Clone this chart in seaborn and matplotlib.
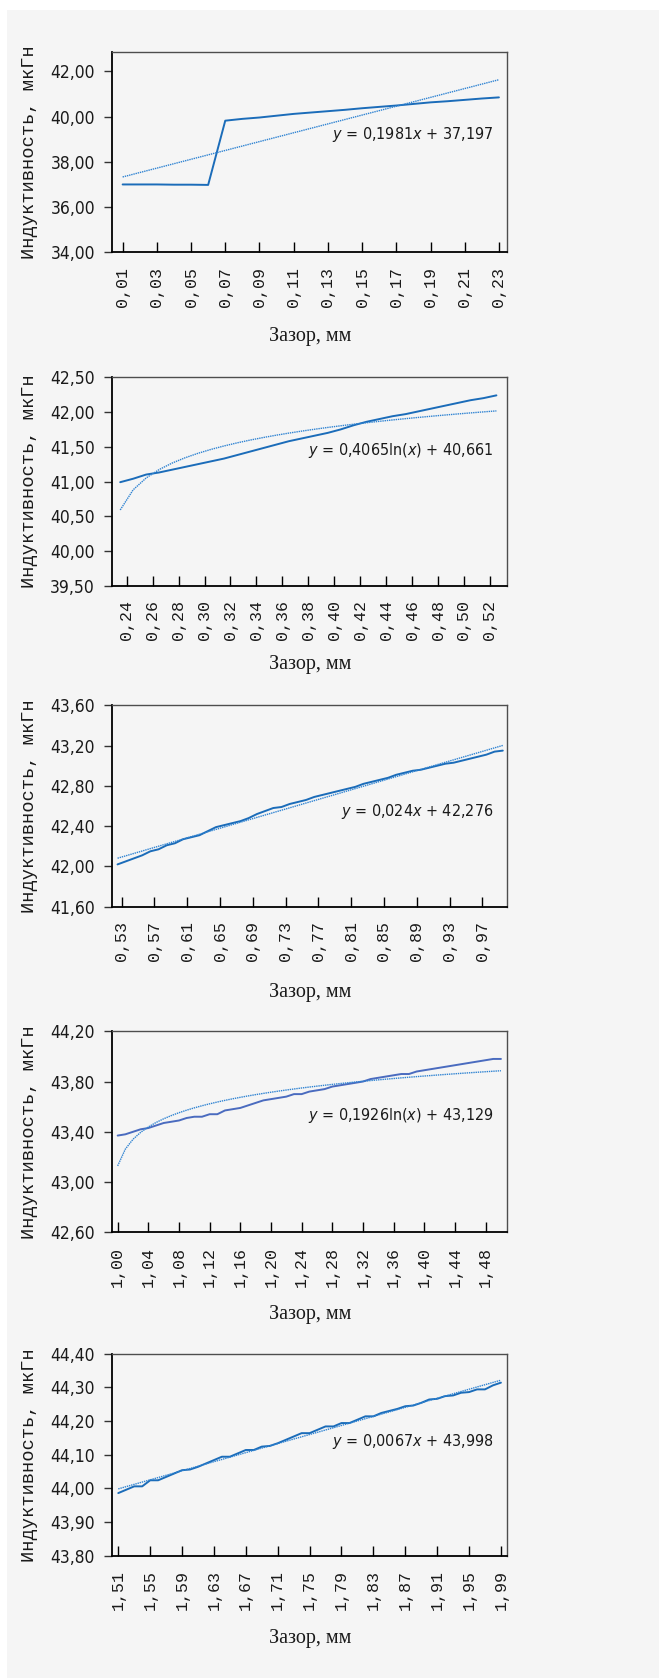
import numpy as np
import pandas as pd
import seaborn as sns
import matplotlib
matplotlib.use("Agg")
import matplotlib.pyplot as plt
from matplotlib import font_manager
from matplotlib.patches import Rectangle

# ---- данные (зазор, мм / индуктивность, мкГн) ----
gap1 = [0.01, 0.02, 0.03, 0.04, 0.05, 0.06, 0.07, 0.08, 0.09, 0.10, 0.11, 0.12,
        0.13, 0.14, 0.15, 0.16, 0.17, 0.18, 0.19, 0.20, 0.21, 0.22, 0.23]
ind1 = [37.00, 37.00, 37.00, 36.99, 36.99, 36.98, 39.82, 39.90, 39.96, 40.04, 40.12, 40.18,
        40.24, 40.30, 40.37, 40.43, 40.49, 40.56, 40.63, 40.68, 40.74, 40.80, 40.85]

gap2 = [0.235, 0.245, 0.255, 0.265, 0.275, 0.285, 0.295, 0.305, 0.315, 0.325,
        0.335, 0.345, 0.355, 0.365, 0.375, 0.385, 0.395, 0.405, 0.415, 0.425,
        0.435, 0.445, 0.455, 0.465, 0.475, 0.485, 0.495, 0.505, 0.515, 0.525]
ind2 = [40.99, 41.04, 41.10, 41.13, 41.17, 41.21, 41.25, 41.29, 41.33, 41.38,
        41.43, 41.48, 41.53, 41.58, 41.62, 41.66, 41.70, 41.75, 41.81, 41.86,
        41.90, 41.94, 41.97, 42.01, 42.05, 42.09, 42.13, 42.17, 42.20, 42.24]

gap3 = [0.525, 0.535, 0.545, 0.555, 0.565, 0.575, 0.585, 0.595, 0.605, 0.615, 0.625, 0.635,
        0.645, 0.655, 0.665, 0.675, 0.685, 0.695, 0.705, 0.715, 0.725, 0.735, 0.745, 0.755,
        0.765, 0.775, 0.785, 0.795, 0.805, 0.815, 0.825, 0.835, 0.845, 0.855, 0.865, 0.875,
        0.885, 0.895, 0.905, 0.915, 0.925, 0.935, 0.945, 0.955, 0.965, 0.975, 0.985, 0.995]
ind3 = [42.02, 42.05, 42.08, 42.11, 42.15, 42.17, 42.21, 42.23, 42.27, 42.29, 42.31, 42.35,
        42.39, 42.41, 42.43, 42.45, 42.48, 42.52, 42.55, 42.58, 42.59, 42.62, 42.64, 42.66,
        42.69, 42.71, 42.73, 42.75, 42.77, 42.79, 42.82, 42.84, 42.86, 42.88, 42.91, 42.93,
        42.95, 42.96, 42.98, 43.00, 43.02, 43.03, 43.05, 43.07, 43.09, 43.11, 43.14, 43.15]

gap4 = [1.00, 1.01, 1.02, 1.03, 1.04, 1.05, 1.06, 1.07, 1.08, 1.09, 1.10, 1.11, 1.12,
        1.13, 1.14, 1.15, 1.16, 1.17, 1.18, 1.19, 1.20, 1.21, 1.22, 1.23, 1.24, 1.25,
        1.26, 1.27, 1.28, 1.29, 1.30, 1.31, 1.32, 1.33, 1.34, 1.35, 1.36, 1.37, 1.38,
        1.39, 1.40, 1.41, 1.42, 1.43, 1.44, 1.45, 1.46, 1.47, 1.48, 1.49, 1.50]
ind4 = [43.37, 43.38, 43.40, 43.42, 43.43, 43.45, 43.47, 43.48, 43.49, 43.51, 43.52, 43.52, 43.54,
        43.54, 43.57, 43.58, 43.59, 43.61, 43.63, 43.65, 43.66, 43.67, 43.68, 43.70, 43.70, 43.72,
        43.73, 43.74, 43.76, 43.77, 43.78, 43.79, 43.80, 43.82, 43.83, 43.84, 43.85, 43.86, 43.86,
        43.88, 43.89, 43.90, 43.91, 43.92, 43.93, 43.94, 43.95, 43.96, 43.97, 43.98, 43.98]

gap5 = [1.51, 1.52, 1.53, 1.54, 1.55, 1.56, 1.57, 1.58, 1.59, 1.60, 1.61, 1.62, 1.63,
        1.64, 1.65, 1.66, 1.67, 1.68, 1.69, 1.70, 1.71, 1.72, 1.73, 1.74, 1.75, 1.76,
        1.77, 1.78, 1.79, 1.80, 1.81, 1.82, 1.83, 1.84, 1.85, 1.86, 1.87, 1.88, 1.89,
        1.90, 1.91, 1.92, 1.93, 1.94, 1.95, 1.96, 1.97, 1.98, 1.99]
ind5 = [43.986, 43.996, 44.006, 44.006, 44.024, 44.024, 44.034, 44.044, 44.054, 44.056, 44.064, 44.074, 44.084,
        44.094, 44.094, 44.104, 44.114, 44.114, 44.124, 44.126, 44.134, 44.144, 44.154, 44.164, 44.164, 44.174,
        44.184, 44.184, 44.194, 44.194, 44.204, 44.214, 44.214, 44.224, 44.230, 44.236, 44.244, 44.246, 44.254,
        44.264, 44.266, 44.274, 44.276, 44.284, 44.286, 44.294, 44.294, 44.306, 44.314]

xlabels1 = ["0,01", "0,03", "0,05", "0,07", "0,09", "0,11", "0,13", "0,15", "0,17", "0,19", "0,21", "0,23"]
xlabels2 = ["0,24", "0,26", "0,28", "0,30", "0,32", "0,34", "0,36", "0,38", "0,40", "0,42",
            "0,44", "0,46", "0,48", "0,50", "0,52"]
xlabels3 = ["0,53", "0,57", "0,61", "0,65", "0,69", "0,73", "0,77", "0,81", "0,85", "0,89", "0,93", "0,97"]
xlabels4 = ["1,00", "1,04", "1,08", "1,12", "1,16", "1,20", "1,24", "1,28", "1,32", "1,36",
            "1,40", "1,44", "1,48"]
xlabels5 = ["1,51", "1,55", "1,59", "1,63", "1,67", "1,71", "1,75", "1,79", "1,83", "1,87",
            "1,91", "1,95", "1,99"]

ylabels1 = ["34,00", "36,00", "38,00", "40,00", "42,00"]
ylabels2 = ["39,50", "40,00", "40,50", "41,00", "41,50", "42,00", "42,50"]
ylabels3 = ["41,60", "42,00", "42,40", "42,80", "43,20", "43,60"]
ylabels4 = ["42,60", "43,00", "43,40", "43,80", "44,20"]
ylabels5 = ["43,80", "43,90", "44,00", "44,10", "44,20", "44,30", "44,40"]

equations = [r"$y$ = 0,1981$x$ + 37,197",
             r"$y$ = 0,4065ln($x$) + 40,661",
             r"$y$ = 0,024$x$ + 42,276",
             r"$y$ = 0,1926ln($x$) + 43,129",
             r"$y$ = 0,0067$x$ + 43,998"]
trend_kind = ["lin", "log", "lin", "log", "lin"]

# ---- оформление ----
sns.set_theme(style="white")

# узкий шрифт, если он есть
fl = font_manager.fontManager.ttflist
narrow_family, narrow_stretch, num_size = "Liberation Sans", "normal", 12.5
for f in fl:
    if f.name == "Liberation Sans Narrow":
        narrow_family, narrow_stretch, num_size = "Liberation Sans Narrow", "normal", 13.5
        break
else:
    for f in fl:
        if f.name == "DejaVu Sans" and str(f.stretch) in ("condensed", "semi-condensed"):
            narrow_family, narrow_stretch, num_size = "DejaVu Sans", "condensed", 12.5
            break

plt.rcParams["font.family"] = [narrow_family, "DejaVu Sans"]
plt.rcParams["font.stretch"] = narrow_stretch
plt.rcParams["mathtext.fontset"] = "custom"
plt.rcParams["mathtext.it"] = narrow_family + ":italic"
plt.rcParams["mathtext.rm"] = narrow_family

W, H = 659, 1678
fig = plt.figure(figsize=(W / 100, H / 100), dpi=100)
fig.patch.set_facecolor("white")
bg = "#f5f5f5"
fig.patches.append(Rectangle((7 / W, 0), 1 - 7 / W, 1 - 10 / H, transform=fig.transFigure,
                             facecolor=bg, edgecolor="none", zorder=-10))

line_col = "#1b6cb9"
trend_col = "#2f83d2"

panels = [
    (gap1, ind1, xlabels1, ylabels1, (0.00396, 0.2349), (34, 42.87), (51.7, 252.3), 0.585, line_col),
    (gap2, ind2, xlabels2, ylabels2, (0.2289, 0.5334), (39.5, 42.5), (377.3, 585.7), 0.651, line_col),
    (gap3, ind3, xlabels3, ylabels3, (0.5186, 1.0005), (41.6, 43.6), (705.3, 906.7), 0.472, line_col),
    (gap4, ind4, xlabels4, ylabels4, (0.993, 1.5083), (42.6, 44.2), (1031.3, 1232.3), 0.579, "#4a6bbf"),
    (gap5, ind5, xlabels5, ylabels5, (1.5025, 1.998), (43.8, 44.4), (1353.7, 1555.7), 0.564, line_col),
]
xlabel_y = [337, 665, 992, 1315, 1638]

left_px, right_px = 112.3, 507.3
for i, (gx, gy, xl, yl, xlim, ylim, (top, bot), ty, col) in enumerate(panels):
    ax = fig.add_axes([left_px / W, 1 - bot / H, (right_px - left_px) / W, (bot - top) / H])
    ax.set_facecolor(bg)
    df = pd.DataFrame({"gap": gx, "L": gy})
    sns.lineplot(data=df, x="gap", y="L", ax=ax, color=col, lw=1.4)

    # линия тренда по номеру точки, как в Excel
    idx = np.arange(1, len(gy) + 1)
    u = idx if trend_kind[i] == "lin" else np.log(idx)
    a, b = np.polyfit(u, gy, 1)
    ax.plot(gx, a * u + b, color=trend_col, lw=1.0, ls=(0, (1, 0.6)))

    ax.text(0.964, ty, equations[i], transform=ax.transAxes, ha="right", va="center",
            fontsize=11.5, color="#1a1a1a")

    ax.set_xlim(*xlim)
    ax.set_ylim(*ylim)
    ax.set_xticks([float(s.replace(",", ".")) for s in xl])
    ax.set_xticklabels(xl, rotation=90, family=["Liberation Mono", "DejaVu Sans Mono"],
                       fontsize=12, color="#1a1a1a")
    ax.set_yticks([float(s.replace(",", ".")) for s in yl])
    ax.set_yticklabels(yl, fontsize=num_size, color="#1a1a1a")
    ax.tick_params(axis="x", direction="in", length=7, width=1, color="black", pad=10.5)
    ax.tick_params(axis="y", direction="out", length=6, width=1, color="#333333", pad=6.5)
    ax.tick_params(left=True, bottom=True)

    for s in ("left", "bottom"):
        ax.spines[s].set_color("black")
        ax.spines[s].set_linewidth(1.3)
    for s in ("top", "right"):
        ax.spines[s].set_color("#4d4d4d")
        ax.spines[s].set_linewidth(1.0)

    ax.set_xlabel("")
    ax.set_ylabel("")
    ax.grid(False)

    # подписи осей
    fig.text(30 / W, 1 - (top + bot) / 2 / H, "Индуктивность, мкГн", rotation=90,
             ha="center", va="center", fontsize=13.5,
             family=["Liberation Mono", "DejaVu Sans Mono"], color="#1a1a1a")
    fig.text((left_px + right_px) / 2 / W, 1 - xlabel_y[i] / H, "Зазор, мм", ha="center",
             va="center", fontsize=14.5, family=["Liberation Serif", "DejaVu Serif"],
             color="#1a1a1a")

fig.savefig("out.png", dpi=100, facecolor="white")
